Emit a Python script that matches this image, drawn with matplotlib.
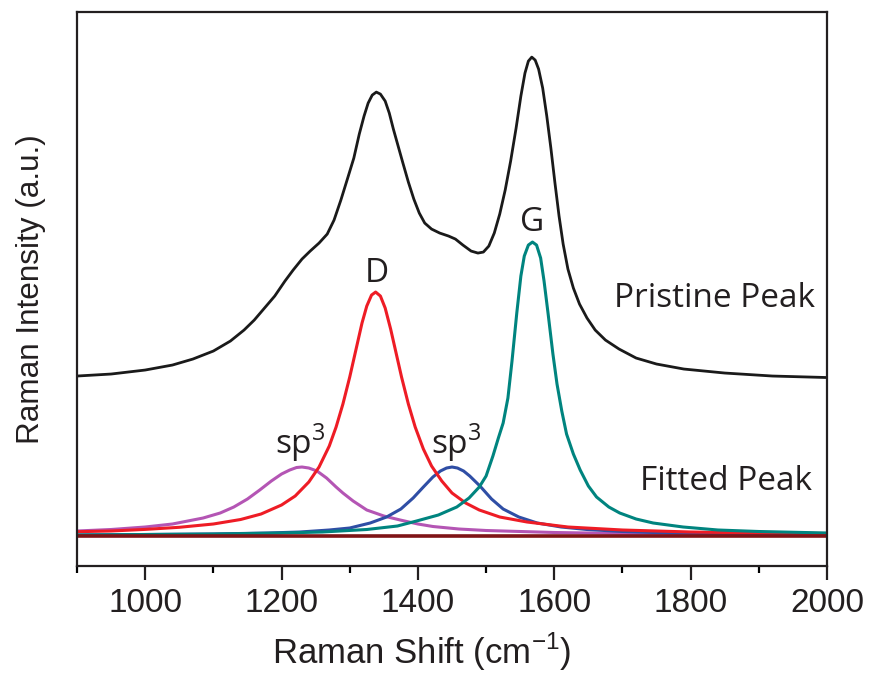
import matplotlib
matplotlib.use("Agg")
import matplotlib.pyplot as plt
from matplotlib.ticker import MultipleLocator

plt.rcParams['mathtext.fontset'] = 'custom'
plt.rcParams['mathtext.rm'] = 'Open Sans'
plt.rcParams['mathtext.sf'] = 'Liberation Sans'

# Spectre brut
x_pristine = [900, 950, 1000, 1040, 1070, 1100, 1125, 1145, 1160, 1175, 1190, 1205, 1217,
              1230, 1242, 1255, 1267, 1277, 1287, 1297, 1306, 1314, 1321, 1327, 1333, 1339,
              1345, 1352, 1358, 1364, 1371, 1378, 1386, 1394, 1402, 1410, 1420, 1432, 1445,
              1455, 1466, 1478, 1488, 1496, 1504, 1512, 1520, 1528, 1536, 1544, 1551, 1557,
              1562, 1567, 1572, 1577, 1583, 1589, 1595, 1601, 1607, 1613, 1620, 1628, 1637,
              1648, 1660, 1675, 1695, 1720, 1750, 1790, 1850, 1920, 2000]
y_pristine = [1.60, 1.62, 1.66, 1.71, 1.77, 1.85, 1.95, 2.06, 2.16, 2.28, 2.40, 2.55, 2.66,
              2.77, 2.85, 2.93, 3.02, 3.16, 3.36, 3.58, 3.78, 4.02, 4.20, 4.33, 4.41, 4.44,
              4.42, 4.35, 4.23, 4.07, 3.90, 3.73, 3.54, 3.37, 3.23, 3.13, 3.07, 3.03, 3.00,
              2.97, 2.91, 2.85, 2.83, 2.84, 2.90, 3.03, 3.22, 3.46, 3.75, 4.08, 4.40, 4.63,
              4.75, 4.79, 4.76, 4.67, 4.48, 4.20, 3.88, 3.53, 3.20, 2.92, 2.67, 2.48, 2.32,
              2.18, 2.06, 1.96, 1.87, 1.78, 1.72, 1.67, 1.63, 1.60, 1.585]

# Pics ajustés
x_d = [900, 950, 1000, 1050, 1100, 1140, 1170, 1200, 1220, 1240, 1255, 1270, 1280, 1290,
       1300, 1310, 1318, 1325, 1332, 1338, 1345, 1352, 1360, 1368, 1376, 1386, 1396, 1408,
       1420, 1435, 1450, 1470, 1490, 1520, 1560, 1620, 1700, 1800, 1900, 2000]
y_d = [0.043, 0.05, 0.066, 0.087, 0.12, 0.165, 0.22, 0.31, 0.40, 0.54, 0.69, 0.90, 1.09,
       1.32, 1.59, 1.89, 2.13, 2.30, 2.41, 2.44, 2.40, 2.28, 2.07, 1.83, 1.59, 1.32, 1.09,
       0.87, 0.70, 0.55, 0.43, 0.33, 0.26, 0.19, 0.14, 0.09, 0.06, 0.04, 0.03, 0.025]

x_g = [900, 1000, 1100, 1200, 1260, 1325, 1370, 1398, 1430, 1457, 1475, 1490, 1500, 1510,
       1518, 1525, 1532, 1538, 1545, 1551, 1556, 1562, 1568, 1574, 1580, 1585, 1591, 1598,
       1604, 1611, 1618, 1628, 1638, 1650, 1662, 1680, 1696, 1720, 1745, 1789, 1840, 1900,
       2000]
y_g = [0.01, 0.015, 0.02, 0.03, 0.04, 0.065, 0.10, 0.15, 0.21, 0.29, 0.38, 0.49, 0.60, 0.80,
       0.98, 1.13, 1.38, 1.75, 2.23, 2.60, 2.80, 2.91, 2.94, 2.91, 2.78, 2.55, 2.22, 1.82,
       1.52, 1.25, 1.02, 0.82, 0.66, 0.50, 0.39, 0.29, 0.23, 0.17, 0.13, 0.09, 0.06, 0.045,
       0.03]

x_sp3_a = [900, 950, 1000, 1040, 1085, 1110, 1130, 1150, 1168, 1185, 1200, 1212, 1222, 1230,
           1240, 1252, 1266, 1280, 1290, 1305, 1325, 1350, 1374, 1400, 1422, 1460, 1500, 1600,
           1700, 1850, 2000]
y_sp3_a = [0.05, 0.065, 0.09, 0.12, 0.18, 0.23, 0.29, 0.37, 0.46, 0.55, 0.62, 0.66, 0.685, 0.69,
           0.68, 0.65, 0.58, 0.49, 0.43, 0.35, 0.26, 0.20, 0.16, 0.12, 0.095, 0.07, 0.055, 0.035,
           0.025, 0.015, 0.01]

x_sp3_b = [900, 1000, 1100, 1180, 1227, 1270, 1300, 1330, 1354, 1375, 1393, 1408, 1422, 1433,
           1442, 1450, 1458, 1467, 1476, 1491, 1508, 1525, 1548, 1575, 1610, 1648, 1700, 1769,
           1870, 2000]
y_sp3_b = [0.01, 0.015, 0.02, 0.03, 0.04, 0.06, 0.08, 0.13, 0.19, 0.27, 0.38, 0.49, 0.59, 0.65,
           0.68, 0.69, 0.68, 0.65, 0.60, 0.50, 0.37, 0.27, 0.19, 0.13, 0.09, 0.065, 0.045, 0.03,
           0.02, 0.015]

x_base = [900, 2000]
y_base = [0.0, 0.0]

fig = plt.figure(figsize=(8.71, 6.73), dpi=100)
ax = fig.add_axes([0.0884, 0.159, 0.8611, 0.823])

style = dict(lw=2.2, solid_joinstyle='round', solid_capstyle='round')
ax.plot(x_sp3_a, y_sp3_a, color='#b455b4', **style)
ax.plot(x_sp3_b, y_sp3_b, color='#2f4ea5', **style)
ax.plot(x_d, y_d, color='#ee1c25', **style)
ax.plot(x_g, y_g, color='#00847f', **style)
ax.plot(x_base, y_base, color='#7f1416', lw=2.6)
ax.plot(x_pristine, y_pristine, color='#1a1a1a', lw=2.0, solid_joinstyle='round')

txt = dict(family='Open Sans', fontsize=24, color='#231f20')
ax.text(1339, 2.63, 'D', ha='center', va='center', **txt)
ax.text(1567, 3.14, 'G', ha='center', va='center', **txt)
ax.text(1227, 0.93, r'sp$^{\mathrm{3}}$', ha='center', va='center', **txt)
ax.text(1456, 0.93, r'sp$^{\mathrm{3}}$', ha='center', va='center', **txt)
ax.text(1982, 2.38, 'Pristine Peak', ha='right', va='center', **txt)
ax.text(1978, 0.55, 'Fitted Peak', ha='right', va='center', **txt)

ax.set_xlim(900, 2000)
ax.set_ylim(-0.30, 5.24)
ax.xaxis.set_major_locator(MultipleLocator(200))
ax.xaxis.set_minor_locator(MultipleLocator(100))
ax.set_yticks([])
ax.tick_params(axis='x', which='major', direction='out', length=10, width=1.6,
               labelsize=24, colors='#231f20', pad=6)
ax.tick_params(axis='x', which='minor', direction='out', length=5, width=1.6)
for lab in ax.get_xticklabels():
    lab.set_family('Liberation Sans')
for s in ax.spines.values():
    s.set_linewidth(1.6)
    s.set_color('#231f20')

ax.set_xlabel(r'Raman Shift (cm$^{\mathsf{-1}}$)', family='Liberation Sans', fontsize=25,
              color='#231f20', labelpad=8)
ax.xaxis.label.set_x(0.46)
ax.set_ylabel('Raman Intensity (a.u.)', family='Liberation Sans', fontsize=22.7,
              color='#231f20', labelpad=22)

fig.savefig('out.png', dpi=100)
